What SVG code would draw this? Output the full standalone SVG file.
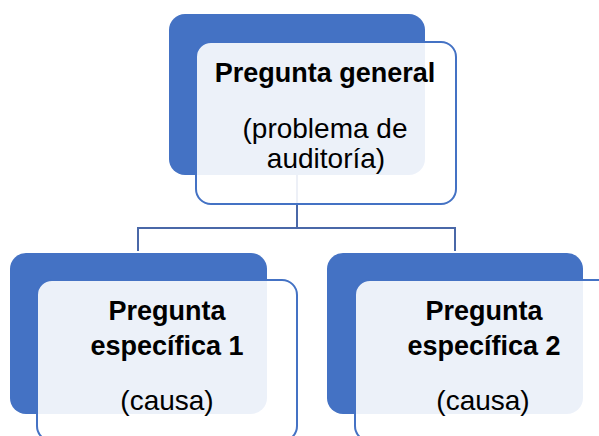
<svg xmlns="http://www.w3.org/2000/svg" width="599" height="436" viewBox="0 0 599 436">
<style>
.back{fill:#4472C4}
.front{fill:#FFFFFF;fill-opacity:0.9;stroke:#4472C4;stroke-width:2}
.conn{fill:none;stroke:#4A68A8;stroke-width:2}
text{font-family:"Liberation Sans",Arial,sans-serif;fill:#000;text-anchor:middle}
.b{font-weight:bold;font-size:27px}
.r{font-size:28px}
</style>
<rect width="599" height="436" fill="#FFFFFF"/>
<g id="connectors">
<path class="conn" d="M297,175 V228"/>
<path class="conn" d="M138,251 V228 H455 V251"/>
</g>
<g id="node-general">
<rect class="back" x="169" y="14" width="256" height="161" rx="16"/>
<rect class="front" x="196" y="42" width="260" height="162" rx="15"/>
<text class="b" x="325" y="82">Pregunta general</text>
<text class="r" x="325" y="138">(problema de</text>
<text class="r" x="326" y="168">auditoría)</text>
</g>
<g id="node-especifica1">
<rect class="back" x="10" y="253" width="257" height="161" rx="16"/>
<rect class="front" x="37" y="280" width="260" height="161" rx="15"/>
<text class="b" x="167" y="320">Pregunta</text>
<text class="b" x="167" y="355">específica 1</text>
<text class="r" x="167" y="410">(causa)</text>
</g>
<g id="node-especifica2">
<rect class="back" x="327" y="253" width="256" height="161" rx="16"/>
<rect class="front" x="355" y="280" width="260" height="161" rx="15"/>
<text class="b" x="484" y="320">Pregunta</text>
<text class="b" x="484" y="355">específica 2</text>
<text class="r" x="483" y="410">(causa)</text>
</g>
</svg>
